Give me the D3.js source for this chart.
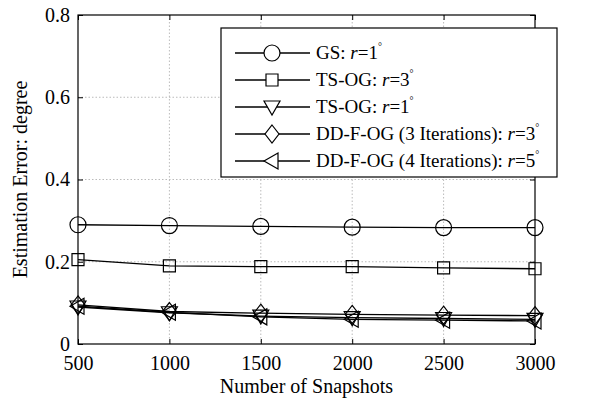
<!DOCTYPE html>
<html>
<head>
<meta charset="utf-8">
<script src="https://cdn.jsdelivr.net/npm/d3@7"></script>
<style>
  body { margin: 0; background: #fff; }
  svg text { font-family: "Liberation Serif", "Times New Roman", serif !important; }
</style>
</head>
<body>
<div id="chart-container"></div>
<script>
const snapshots = [500, 1000, 1500, 2000, 2500, 3000];
const gsR1 = [0.290, 0.288, 0.286, 0.284, 0.283, 0.283];
const tsogR3 = [0.205, 0.190, 0.188, 0.188, 0.185, 0.183];
const tsogR1 = [0.090, 0.076, 0.068, 0.064, 0.062, 0.060];
const ddfog3R3 = [0.095, 0.079, 0.075, 0.072, 0.070, 0.069];
const ddfog4R5 = [0.092, 0.077, 0.066, 0.060, 0.058, 0.056];
const xTicks = [500, 1000, 1500, 2000, 2500, 3000];
const yTicks = [0, 0.2, 0.4, 0.6, 0.8];

const series = [
  { name: "GS: ", r: "1", values: gsR1, marker: "circle" },
  { name: "TS-OG: ", r: "3", values: tsogR3, marker: "square" },
  { name: "TS-OG: ", r: "1", values: tsogR1, marker: "triDown" },
  { name: "DD-F-OG (3 Iterations): ", r: "3", values: ddfog3R3, marker: "diamond" },
  { name: "DD-F-OG (4 Iterations): ", r: "5", values: ddfog4R5, marker: "triLeft" }
];

const container = document.getElementById("chart-container");
const serif = "'Liberation Serif', 'Times New Roman', serif";

function markerPath(type) {
  switch (type) {
    case "circle": return d3.symbol(d3.symbolCircle, Math.PI * 8 * 8)();
    case "square": return "M-6,-6H6V6H-6Z";
    case "triDown": return "M-8,-6L8,-6L0,8Z";
    case "diamond": return "M0,-9L7,0L0,9L-7,0Z";
    case "triLeft": return "M-8,0L6,-8L6,8Z";
  }
}

function lineChart() {
  const width = 600;
  const height = 403;
  const marginTop = 15;
  const marginRight = 65;
  const marginBottom = 59;
  const marginLeft = 78;

  const x = d3.scaleLinear()
    .domain([500, 3000])
    .range([marginLeft, width - marginRight]);

  const y = d3.scaleLinear()
    .domain([0, 0.8])
    .range([height - marginBottom, marginTop]);

  const svg = d3.create("svg")
    .attr("width", width)
    .attr("height", height)
    .attr("font-family", serif);

  // grid
  svg.append("g")
    .selectAll("line")
    .data(xTicks.slice(1, -1))
    .join("line")
    .attr("x1", d => x(d)).attr("x2", d => x(d))
    .attr("y1", marginTop).attr("y2", height - marginBottom)
    .attr("stroke", "#bbb").attr("stroke-dasharray", "1.5,2");
  svg.append("g")
    .selectAll("line")
    .data(yTicks.slice(1, -1))
    .join("line")
    .attr("x1", marginLeft).attr("x2", width - marginRight)
    .attr("y1", d => y(d)).attr("y2", d => y(d))
    .attr("stroke", "#bbb").attr("stroke-dasharray", "1.5,2");

  // axes (ticks point inward on all four sides)
  svg.append("g")
    .attr("transform", `translate(0,${height - marginBottom})`)
    .call(d3.axisBottom(x).tickValues(xTicks).tickSize(-5).tickPadding(12).tickFormat(d3.format("d")))
    .call(g => g.select(".domain").remove())
    .call(g => g.selectAll("text").attr("font-size", 20).attr("font-family", serif).attr("fill", "#000"));
  svg.append("g")
    .attr("transform", `translate(0,${marginTop})`)
    .call(d3.axisTop(x).tickValues(xTicks).tickSize(-5).tickFormat(""))
    .call(g => g.select(".domain").remove());
  svg.append("g")
    .attr("transform", `translate(${marginLeft},0)`)
    .call(d3.axisLeft(y).tickValues(yTicks).tickSize(-5).tickPadding(8).tickFormat(d => d === 0 ? "0" : d3.format(".1f")(d)))
    .call(g => g.select(".domain").remove())
    .call(g => g.selectAll("text").attr("font-size", 20).attr("font-family", serif).attr("fill", "#000"));
  svg.append("g")
    .attr("transform", `translate(${width - marginRight},0)`)
    .call(d3.axisRight(y).tickValues(yTicks).tickSize(-5).tickFormat(""))
    .call(g => g.select(".domain").remove());

  svg.append("rect")
    .attr("x", marginLeft).attr("y", marginTop)
    .attr("width", width - marginLeft - marginRight)
    .attr("height", height - marginTop - marginBottom)
    .attr("fill", "none").attr("stroke", "#000").attr("stroke-width", 1.2);

  // axis titles
  svg.append("text")
    .attr("x", (marginLeft + width - marginRight) / 2)
    .attr("y", 393)
    .attr("font-size", 20)
    .attr("text-anchor", "middle")
    .text("Number of Snapshots");
  svg.append("text")
    .attr("transform", `translate(27,${(marginTop + height - marginBottom) / 2}) rotate(-90)`)
    .attr("font-size", 20)
    .attr("text-anchor", "middle")
    .text("Estimation Error: degree");

  // lines + markers
  const line = d3.line()
    .x((d, i) => x(snapshots[i]))
    .y(d => y(d));

  series.forEach(s => {
    svg.append("path")
      .attr("d", line(s.values))
      .attr("fill", "none")
      .attr("stroke", "#000")
      .attr("stroke-width", 1.3);
    svg.append("g")
      .selectAll("path")
      .data(s.values)
      .join("path")
      .attr("transform", (d, i) => `translate(${x(snapshots[i])},${y(d)})`)
      .attr("d", markerPath(s.marker))
      .attr("fill", "none")
      .attr("stroke", "#000")
      .attr("stroke-width", 1.2);
  });

  // legend
  const legend = svg.append("g");
  legend.append("rect")
    .attr("x", 221).attr("y", 28)
    .attr("width", 336).attr("height", 149)
    .attr("fill", "#fff").attr("stroke", "#000").attr("stroke-width", 1.2);

  series.forEach((s, i) => {
    const ly = 53 + i * 27;
    const row = legend.append("g");
    row.append("line")
      .attr("x1", 235).attr("x2", 310)
      .attr("y1", ly).attr("y2", ly)
      .attr("stroke", "#000").attr("stroke-width", 1.3);
    row.append("path")
      .attr("transform", `translate(272,${ly})`)
      .attr("d", markerPath(s.marker))
      .attr("fill", "#fff")
      .attr("stroke", "#000")
      .attr("stroke-width", 1.2);
    const t = row.append("text")
      .attr("x", 316).attr("y", ly + 6)
      .attr("font-size", 19);
    t.append("tspan").text(s.name);
    t.append("tspan").attr("font-style", "italic").text("r");
    t.append("tspan").text("=" + s.r);
    t.append("tspan").attr("dy", -9).attr("font-size", 10).text("°");
  });

  return svg.node();
}

container.appendChild(lineChart());
</script>
</body>
</html>
